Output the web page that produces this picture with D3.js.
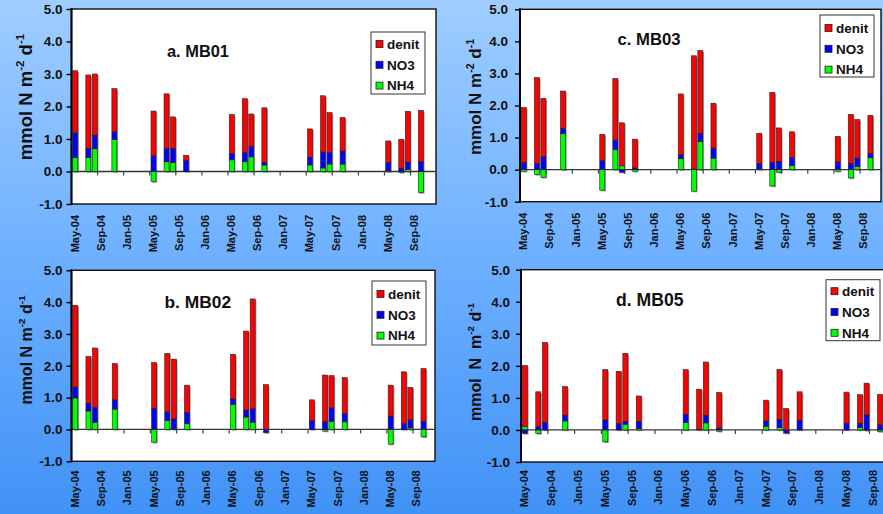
<!DOCTYPE html>
<html><head><meta charset="utf-8">
<script src="https://cdn.jsdelivr.net/npm/d3@7"></script>
<style>
html,body{margin:0;padding:0;overflow:hidden;background:#fff;}
svg{display:block;font-family:Arial,"Liberation Sans",sans-serif;}
</style></head><body>
<svg id="chart" width="883" height="514"></svg>
<script>
// ---- categories (monthly axis) ----
const months = ["May-04","Jun-04","Jul-04","Aug-04","Sep-04","Oct-04","Nov-04","Dec-04",
  "Jan-05","Feb-05","Mar-05","Apr-05","May-05","Jun-05","Jul-05","Aug-05","Sep-05","Oct-05","Nov-05","Dec-05",
  "Jan-06","Feb-06","Mar-06","Apr-06","May-06","Jun-06","Jul-06","Aug-06","Sep-06","Oct-06","Nov-06","Dec-06",
  "Jan-07","Feb-07","Mar-07","Apr-07","May-07","Jun-07","Jul-07","Aug-07","Sep-07","Oct-07","Nov-07","Dec-07",
  "Jan-08","Feb-08","Mar-08","Apr-08","May-08","Jun-08","Jul-08","Aug-08","Sep-08","Oct-08","Nov-08","Dec-08"];
const tickLabels = ["May-04","Sep-04","Jan-05","May-05","Sep-05","Jan-06","May-06","Sep-06","Jan-07","May-07","Sep-07","Jan-08","May-08","Sep-08"];
const sampleMonths = ["May-04","Jul-04","Aug-04","Nov-04","May-05","Jul-05","Aug-05","Oct-05",
  "May-06","Jul-06","Aug-06","Oct-06","May-07","Jul-07","Aug-07","Oct-07","May-08","Jul-08","Aug-08","Oct-08"];
const yTicks = [-1, 0, 1, 2, 3, 4, 5];
const seriesNames = ["denit", "NO3", "NH4"];

// ---- series values (mmol N m-2 d-1) ----
const mb01NH4   = [0.43,0.43,0.70,0.99,-0.31,0.30,0.28,0.00,0.36,0.30,0.45,0.20,0.20,0.11,0.23,0.23,0.02,-0.03,0.07,-0.65];
const mb01NO3   = [0.76,0.28,0.42,0.23,0.48,0.41,0.43,0.34,0.19,0.28,0.32,0.08,0.24,0.49,0.35,0.40,0.25,0.10,0.22,0.30];
const mb01Denit = [1.91,2.26,1.88,1.33,1.38,1.68,0.97,0.16,1.20,1.66,1.00,1.68,0.87,1.73,1.23,1.03,0.67,0.89,1.56,1.58];

const mb02NH4   = [0.99,0.58,0.23,0.64,-0.40,0.28,0.02,0.18,0.79,0.39,0.23,0.00,0.00,-0.05,0.26,0.24,-0.46,0.00,0.05,-0.23];
const mb02NO3   = [0.34,0.24,0.46,0.29,0.67,0.27,0.31,0.35,0.17,0.22,0.42,-0.10,0.27,0.24,0.42,0.26,0.42,0.18,0.25,0.26];
const mb02Denit = [2.57,1.47,1.87,1.14,1.43,1.84,1.88,0.86,1.40,2.48,3.45,1.41,0.66,1.47,1.01,1.13,0.97,1.63,1.02,1.65];

const mb03NH4   = [-0.05,-0.15,-0.24,1.12,-0.64,0.62,0.12,-0.05,0.34,-0.67,0.87,0.36,0.02,-0.51,-0.08,0.13,-0.05,-0.26,0.10,0.37];
const mb03NO3   = [0.22,0.19,0.40,0.16,0.28,0.30,-0.08,0.05,0.13,0.02,0.26,0.31,0.17,0.22,0.26,0.25,0.24,0.20,0.26,0.13];
const mb03Denit = [1.72,2.68,1.82,1.17,0.82,1.92,1.34,0.90,1.89,3.53,2.58,1.40,0.94,2.19,1.04,0.80,0.80,1.52,1.20,1.19];

const mb05NH4   = [0.11,-0.11,0.00,0.28,-0.37,0.00,0.18,0.04,0.23,0.00,0.22,-0.04,0.11,0.08,0.00,0.00,0.00,0.07,-0.02,-0.05];
const mb05NO3   = [-0.11,0.11,0.24,0.18,0.31,0.20,0.09,0.23,0.26,0.02,0.24,0.06,0.17,0.25,-0.10,0.30,0.21,0.14,0.47,0.16];
const mb05Denit = [1.90,1.08,2.49,0.89,1.57,1.63,2.12,0.79,1.39,1.25,1.66,1.11,0.65,1.55,0.67,0.89,0.97,0.89,0.99,0.95];

const colors = {denit:"#ff0000", NO3:"#0000ff", NH4:"#00ff00"};

const svg = d3.select("#chart");
const defs = svg.append("defs");
const grad = defs.append("linearGradient").attr("id","bg").attr("x1",0).attr("y1",0).attr("x2",0).attr("y2",1);
grad.append("stop").attr("offset","0%").attr("stop-color","#9fcdff");
grad.append("stop").attr("offset","50%").attr("stop-color","#6eb0ff");
grad.append("stop").attr("offset","100%").attr("stop-color","#4192f6");
svg.append("rect").attr("width",883).attr("height",514).attr("fill","url(#bg)");

const panels = [
  {title:"a. MB01", nh4:mb01NH4, no3:mb01NO3, denit:mb01Denit,
   left:71.5, right:436, top:9, bottom:204, bw:6.52, yGap:9, xGap:11,
   tx:167, ty:57, ts:16.4, lg:{x:371,y:32,w:54,h:62,r0:12},
   yt:{x:32,y:97,s:18.5,sp:" "}},
  {title:"b. MB02", nh4:mb02NH4, no3:mb02NO3, denit:mb02Denit,
   left:71.5, right:435, top:270.3, bottom:461.3, bw:6.57, yGap:9, xGap:9,
   tx:164.5, ty:308, ts:17.4, lg:{x:372,y:281,w:54,h:64,r0:13},
   yt:{x:32,y:350,s:16,sp:" "}},
  {title:"c. MB03", nh4:mb03NH4, no3:mb03NO3, denit:mb03Denit,
   left:520, right:881, top:9.3, bottom:201.7, bw:6.54, yGap:12, xGap:11,
   tx:617.5, ty:45, ts:16.7, lg:{x:820,y:15,w:54,h:62,r0:13},
   yt:{x:481,y:97,s:17,sp:" "}},
  {title:"d. MB05", nh4:mb05NH4, no3:mb05NO3, denit:mb05Denit,
   left:521, right:905, top:269.7, bottom:462, bw:6.7, yGap:11, xGap:8,
   tx:616, ty:306.3, ts:17.6, lg:{x:826,y:279.7,w:54,h:61,r0:11.5},
   yt:{x:481,y:362,s:16,sp:"\u00A0\u00A0"}}
];

function drawPanel(p){
  const g = svg.append("g");
  const x = d3.scaleBand().domain(months).range([p.left, p.left + months.length*p.bw]).padding(0);
  const y = d3.scaleLinear().domain([-1,5]).range([p.bottom, p.top]);
  const barW = 5;

  // plot area
  g.append("rect").attr("x",p.left).attr("y",p.top).attr("width",p.right-p.left).attr("height",p.bottom-p.top)
    .attr("fill","#fff").attr("stroke","#111").attr("stroke-width",1.4);

  // data rows
  const rows = sampleMonths.map((m,i)=>({month:m, NH4:p.nh4[i], NO3:p.no3[i], denit:p.denit[i]}));
  const stack = d3.stack().keys(["NH4","NO3","denit"]).offset(d3.stackOffsetDiverging)(rows);

  const bx = d => x(d.data.month) + (p.bw - barW)/2 + 0.5;
  // shadows
  stack.forEach(s=>{
    g.selectAll(null).data(s.filter(d=>Math.abs(d[1]-d[0])>0.001)).enter().append("rect")
      .attr("x",d=>bx(d)+1.2).attr("y",d=>y(Math.max(d[0],d[1]))+1.2)
      .attr("width",barW).attr("height",d=>Math.abs(y(d[0])-y(d[1])))
      .attr("fill","#9a9a9a");
  });
  // zero line
  g.append("line").attr("x1",p.left).attr("x2",p.right).attr("y1",y(0)).attr("y2",y(0))
    .attr("stroke","#333").attr("stroke-width",1.3);
  // category boundary ticks on zero line
  const tickMonths = tickLabels.filter((m,i)=>i>0);
  g.selectAll(null).data(tickMonths).enter().append("line")
    .attr("x1",d=>x(d)).attr("x2",d=>x(d)).attr("y1",y(0)).attr("y2",y(0)+4)
    .attr("stroke","#444").attr("stroke-width",1.2);
  // bars
  stack.forEach(s=>{
    g.selectAll(null).data(s.filter(d=>Math.abs(d[1]-d[0])>0.001)).enter().append("rect")
      .attr("x",bx).attr("y",d=>y(Math.max(d[0],d[1])))
      .attr("width",barW).attr("height",d=>Math.abs(y(d[0])-y(d[1])))
      .attr("fill",colors[s.key]).attr("stroke","#222").attr("stroke-width",0.6);
  });

  // y axis
  const ya = g.append("g").attr("transform",`translate(${p.left},0)`)
    .call(d3.axisLeft(y).tickValues(yTicks).tickFormat(d=>d.toFixed(1)).tickSize(5).tickPadding(p.yGap-5));
  ya.select(".domain").remove();
  ya.selectAll("line").attr("stroke","#000").attr("stroke-width",1.4);
  ya.selectAll("text").attr("font-size","13.5px").attr("font-weight","bold").attr("fill","#111")
    .attr("font-family","Arial, 'Liberation Sans', sans-serif");
  g.append("line").attr("x1",p.left).attr("x2",p.left).attr("y1",p.top-1).attr("y2",p.bottom+1)
    .attr("stroke","#000").attr("stroke-width",2);

  // x labels
  const xa = g.append("g").attr("transform",`translate(0,${p.bottom})`)
    .call(d3.axisBottom(x).tickValues(tickLabels).tickSize(0));
  xa.select(".domain").remove();
  xa.selectAll("text").attr("transform","rotate(-90)").attr("x",-p.xGap).attr("y",0).attr("dy","0.36em")
    .style("text-anchor","end").attr("font-size","11px").attr("font-weight","bold").attr("fill","#111")
    .attr("font-family","Arial, 'Liberation Sans', sans-serif");

  // title
  g.append("text").attr("x",p.tx).attr("y",p.ty).text(p.title)
    .attr("font-size",p.ts+"px").attr("font-weight","bold").attr("fill","#111");

  // legend
  const lg = g.append("g");
  lg.append("rect").attr("x",p.lg.x).attr("y",p.lg.y).attr("width",p.lg.w).attr("height",p.lg.h)
    .attr("fill","#fff").attr("stroke","#333").attr("stroke-width",1);
  seriesNames.forEach((n,i)=>{
    const cy = p.lg.y + p.lg.r0 + i*20.8;
    lg.append("rect").attr("x",p.lg.x+5).attr("y",cy-3.5).attr("width",7).attr("height",7)
      .attr("fill",colors[n]).attr("stroke","#222").attr("stroke-width",0.8);
    lg.append("text").attr("x",p.lg.x+16).attr("y",cy).attr("dy","0.36em").text(n)
      .attr("font-size","13.5px").attr("font-weight","bold").attr("fill","#111");
  });

  // y title
  const s = p.yt.s, sub = s*0.62;
  const t = g.append("text").attr("transform",`translate(${p.yt.x},${p.yt.y}) rotate(-90)`)
    .attr("text-anchor","middle").attr("font-weight","bold").attr("font-size",s+"px").attr("fill","#111");
  t.append("tspan").text("mmol"+p.yt.sp+"N"+p.yt.sp+"m");
  t.append("tspan").attr("font-size",sub+"px").attr("dy",-s*0.42).text("-2");
  t.append("tspan").attr("dy",s*0.42).text(" d");
  t.append("tspan").attr("font-size",sub+"px").attr("dy",-s*0.42).text("-1");
}
panels.forEach(drawPanel);
</script>
</body></html>
